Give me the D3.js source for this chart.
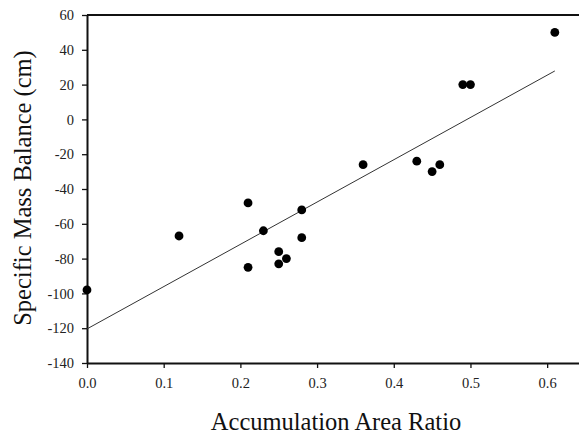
<!DOCTYPE html>
<html>
<head>
<meta charset="utf-8">
<script src="https://cdn.jsdelivr.net/npm/d3@7"></script>
<style>
  html, body { margin: 0; padding: 0; background: #fff; }
  svg { display: block; }
  .tick text { font-family: "Liberation Serif", "Times New Roman", serif; font-size: 14.5px; fill: #222; }
  .title { font-family: "Liberation Serif", "Times New Roman", serif; font-size: 24.5px; fill: #111; }
</style>
</head>
<body>
<svg id="chart" width="579" height="434"></svg>
<script>
// Accumulation area ratio (AAR) per year
const aar = [0, 0.12, 0.21, 0.21, 0.23, 0.25, 0.25, 0.26, 0.28, 0.28, 0.36, 0.43, 0.45, 0.46, 0.49, 0.50, 0.61];
// Specific mass balance (cm) for the same years
const massBalance = [-98, -67, -48, -85, -64, -76, -83, -80, -52, -68, -26, -24, -30, -26, 20, 20, 50];
const xTicks = [0, 0.1, 0.2, 0.3, 0.4, 0.5, 0.6];
const yTicks = [-140, -120, -100, -80, -60, -40, -20, 0, 20, 40, 60];

const svg = d3.select("#chart");
const margin = { left: 87, top: 15, bottom: 363 };

const x = d3.scaleLinear().domain([0, 0.65]).range([margin.left, 585.5]);
const y = d3.scaleLinear().domain([-140, 60]).range([margin.bottom, margin.top]);

// Least-squares fit of mass balance against AAR
const mx = d3.mean(aar), my = d3.mean(massBalance);
let sxy = 0, sxx = 0;
aar.forEach((v, i) => { sxy += (v - mx) * (massBalance[i] - my); sxx += (v - mx) * (v - mx); });
const slope = sxy / sxx;
const intercept = my - slope * mx;
const fitX = [d3.min(aar), d3.max(aar)];

// top frame line
svg.append("line")
  .attr("x1", x(0)).attr("x2", x(0.65))
  .attr("y1", y(60)).attr("y2", y(60))
  .attr("stroke", "#111").attr("stroke-width", 2);

// axes
const xAxis = svg.append("g")
  .attr("transform", `translate(0,${y(-140)})`)
  .call(d3.axisBottom(x).tickValues(xTicks).tickFormat(d3.format(".1f")).tickSize(5).tickSizeOuter(0).tickPadding(6));
const yAxis = svg.append("g")
  .attr("transform", `translate(${x(0)},0)`)
  .call(d3.axisLeft(y).tickValues(yTicks).tickFormat(d => d < 0 ? "-" + Math.abs(d) : d).tickSize(5).tickSizeOuter(0).tickPadding(8));

[xAxis, yAxis].forEach(g => {
  g.select(".domain").attr("stroke", "#111").attr("stroke-width", 2);
  g.selectAll(".tick line").attr("stroke", "#111").attr("stroke-width", 1.3);
});
xAxis.selectAll(".tick text").attr("dy", "0.95em");

// regression line
svg.append("line")
  .attr("x1", x(fitX[0])).attr("y1", y(intercept + slope * fitX[0]))
  .attr("x2", x(fitX[1])).attr("y2", y(intercept + slope * fitX[1]))
  .attr("stroke", "#333").attr("stroke-width", 1);

// observations
svg.append("g").selectAll("circle")
  .data(aar.map((v, i) => [v, massBalance[i]]))
  .join("circle")
  .attr("cx", d => x(d[0]))
  .attr("cy", d => y(d[1]))
  .attr("r", 4.4)
  .attr("fill", "#000");

// axis titles
svg.append("text").attr("class", "title")
  .attr("x", 336).attr("y", 429.5)
  .attr("text-anchor", "middle")
  .text("Accumulation Area Ratio");
svg.append("text").attr("class", "title")
  .attr("transform", `translate(31,188) rotate(-90)`)
  .attr("text-anchor", "middle")
  .text("Specific Mass Balance (cm)");
</script>
</body>
</html>
